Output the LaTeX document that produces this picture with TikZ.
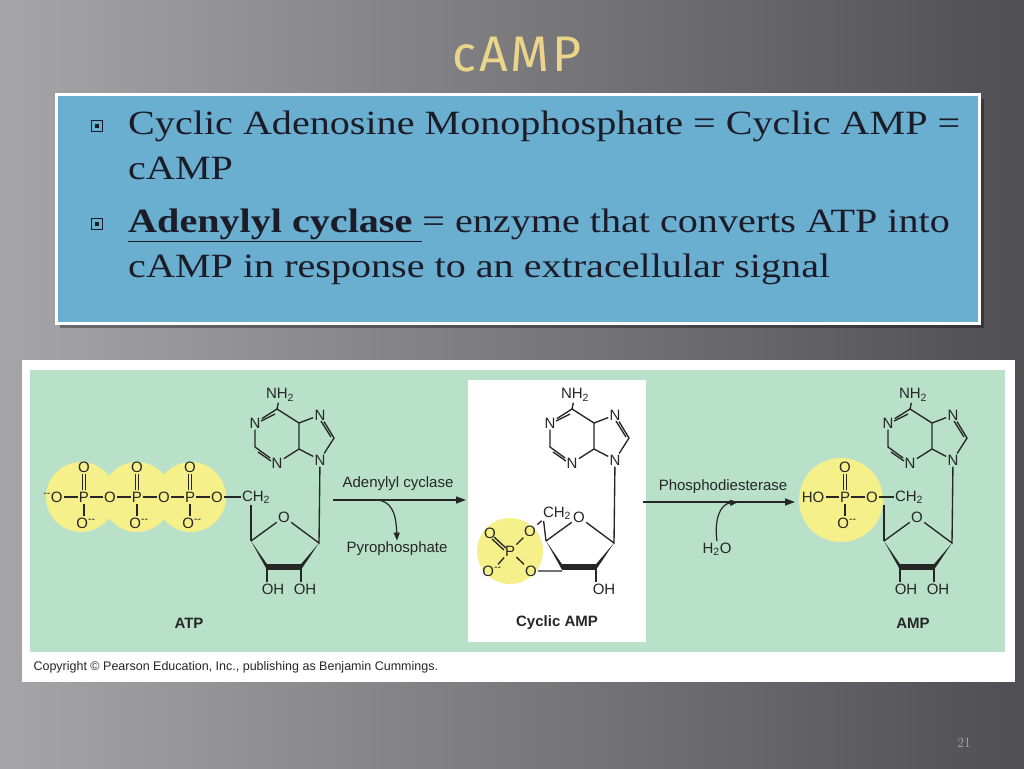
\documentclass[tikz,border=0pt]{standalone}
\usepackage{fontspec}
\newfontfamily\molf{Liberation Sans}
\newfontfamily\titlef[LetterSpace=6]{Fira Sans}
\newfontfamily\bodyf{Liberation Serif}
\usetikzlibrary{calc,arrows.meta,shadows}
\definecolor{slidebg}{HTML}{6A6A6F}
\definecolor{boxblue}{HTML}{6AAED0}
\definecolor{pgreen}{HTML}{B9E1C9}
\definecolor{ylw}{HTML}{F6F08A}
\definecolor{gold}{HTML}{EBD58A}
\definecolor{txt}{HTML}{1C1C28}
\tikzset{
 atom/.style={font=\molf\fontsize{15}{15}\selectfont, inner sep=1.2pt, text=black!85},
 bond/.style={line width=1.35pt, black!85},
 lbl/.style={font=\molf\bfseries\fontsize{15}{15}\selectfont, text=black!85},
 body/.style={anchor=base west, font=\bodyf\fontsize{34}{38}\selectfont, text=txt, inner sep=0pt, xscale=1.18, transform shape},
 ph/.style={circle, fill=ylw, minimum size=#1, inner sep=0pt},
 rarrow/.style={line width=1.3pt, black!85, -{Triangle[length=10pt,width=7pt]}},
 bul/.style={draw=txt, line width=0.8pt, minimum size=11pt, inner sep=0pt, path picture={\fill[txt] (path picture bounding box.center) ++(-2pt,-2pt) rectangle ++(4pt,4pt);}},
}
\newcommand\mynuc[1]{%
 \node[atom] (#1nh) at (3,0) {NH\textsubscript{2}};
 \coordinate (#1c6) at (0,14);
 \node[atom] (#1n1) at (-22,28) {N};
 \coordinate (#1c2) at (-22,52);
 \node[atom] (#1n3) at (0,68) {N};
 \coordinate (#1c4) at (22,54);
 \coordinate (#1c5) at (22,28);
 \node[atom] (#1n7) at (43,20) {N};
 \coordinate (#1c8) at (57,43);
 \node[atom] (#1n9) at (43,65) {N};
 \coordinate (#1c1) at (42,148);
 \node[atom] (#1o) at (7,122) {O};
 \coordinate (#1cf) at (-26,146);
 \coordinate (#1ct) at (-10,172);
 \coordinate (#1cs) at (24,172);
 \draw[bond] (#1nh) -- (#1c6) -- (#1n1) -- (#1c2) -- (#1n3) -- (#1c4) -- (#1c5) -- (#1c6);
 \draw[bond] (#1c5) -- (#1n7) -- (#1c8) -- (#1n9) -- (#1c4);
 \draw[bond] (#1n9) -- (#1c1) -- (#1o) -- (#1cf);
 \draw[bond] ($(#1c6)+(-2,5)$) -- ($(#1n1)+(6,-2)$);
 \draw[bond] ($(#1c2)+(3,5)$) -- ($(#1n3)+(-6,-2)$);
 \draw[bond] ($(#1n7)+(1,6)$) -- ($(#1c8)+(-3,-1)$);
 \fill[black!85] (#1cf) -- ($(#1ct)+(0,-2.8)$) -- ($(#1ct)+(0,2.8)$) -- cycle;
 \fill[black!85] (#1c1) -- ($(#1cs)+(0,-2.8)$) -- ($(#1cs)+(0,2.8)$) -- cycle;
 \draw[black!85, line width=5.6pt] (#1ct) -- (#1cs);
}
\begin{document}
\begin{tikzpicture}[x=1pt,y=-1pt]
\useasboundingbox (0,0) rectangle (1024,768);
\shade[shading=axis, shading angle=-55, left color=white!40!slidebg, right color=slidebg!75!black] (0,0) rectangle (1024,768);
% title
\node[font=\titlef\fontsize{50}{50}\selectfont, text=gold] (title) at (517,55) {cAMP};
% blue box
\fill[black, opacity=0.35] (60,99) rectangle (984,328);
\node[draw=white, line width=3pt, fill=boxblue, minimum width=923pt, minimum height=229pt, anchor=north west, inner sep=0pt] (box) at (55,93) {};
\node[bul] (b1) at (97,126) {};
\node[bul] (b2) at (97,224) {};
\node[body] (l1) at (128,134) {Cyclic Adenosine Monophosphate = Cyclic AMP =};
\node[body] (l2) at (128,179) {cAMP};
\node[body] (l3) at (128,232) {\textbf{\underline{Adenylyl cyclase }}= enzyme that converts ATP into};
\node[body] (l4) at (128,277) {cAMP in response to an extracellular signal};
% figure
\fill[white] (22,360) rectangle (1015,682);
\fill[pgreen] (30,370) rectangle (1005,652);
\fill[white] (468,380) rectangle (646,642);
\node[anchor=west, font=\molf\fontsize{12.5}{13}\selectfont, text=black!85] (copy) at (30,667) {Copyright \textcopyright{} Pearson Education, Inc., publishing as Benjamin Cummings.};
\node[font=\fontsize{14}{14}\selectfont, text=black!35] (pg) at (964,743) {21};
% ATP
\node[ph=70pt] (y1) at (81,497) {};
\node[ph=70pt] (y2) at (137,497) {};
\node[ph=70pt] (y3) at (191,497) {};
\begin{scope}[shift={(277,395)}]\mynuc{a}\end{scope}
\node[atom] (am) at (53,497) {\textsuperscript{--}O};
\node[atom] (ap1) at (84,497) {P};
\node[atom] (ao1) at (110,497) {O};
\node[atom] (ap2) at (137,497) {P};
\node[atom] (ao2) at (164,497) {O};
\node[atom] (ap3) at (190,497) {P};
\node[atom] (ao3) at (217,497) {O};
\node[atom] (ach) at (256,497) {CH\textsubscript{2}};
\foreach \i in {1,2,3}{
 \node[atom] (at\i) at ($(ap\i)+(0,-30)$) {O};
 \node[atom] (ab\i) at ($(ap\i)+(2,26)$) {O\textsuperscript{--}};
 \draw[bond] ($(ap\i.north)+(-1.8,0)$) -- ($(at\i.south)+(-1.8,0)$);
 \draw[bond] ($(ap\i.north)+(1.8,0)$) -- ($(at\i.south)+(1.8,0)$);
 \draw[bond] (ap\i) -- (ab\i.north-|ap\i);}
\draw[bond] (am) -- (ap1) -- (ao1) -- (ap2) -- (ao2) -- (ap3) -- (ao3) -- (ach);
\draw[bond] (ach.south-|acf) -- (acf);
\node[atom] (aoh1) at (273,589) {OH};
\node[atom] (aoh2) at (305,589) {OH};
\draw[bond] (act) -- (aoh1.north-|act);
\draw[bond] (acs) -- (aoh2.north-|acs);
\node[lbl] (atp) at (189,623) {ATP};
% arrow 1
\coordinate (r1s) at (333,500); \coordinate (r1e) at (466,500);
\draw[rarrow] (r1s) -- (r1e);
\node[atom] (e1) at (398,484) {Adenylyl cyclase};
\node[atom] (pp) at (397,549) {Pyrophosphate};
\coordinate (r1a) at (378,500);
\draw[line width=1.2pt, black!85, -{Triangle[length=8pt,width=6pt]}] (r1a) .. controls (390,502) and (396,510) .. (pp.north);
% cAMP
\node[ph=66pt] (y4) at (510,551) {};
\begin{scope}[shift={(572,395)}]\mynuc{c}\end{scope}
\node[atom] (cch) at (557,513) {CH\textsubscript{2}};
\node[atom] (co5) at (530,531) {O};
\node[atom] (cp) at (510,551) {P};
\node[atom] (cod) at (490,533) {O};
\node[atom] (com) at (492,571) {O\textsuperscript{--}};
\node[atom] (co3) at (531,571) {O};
\draw[bond] (cch.south west) -- (co5) -- (cp) -- (co3) -- (co3-|cct);
\draw[bond] (cp) -- (com);
\draw[bond] ($(cp)+(-4,-3)$) -- ($(cod)+(4,4)$);
\draw[bond] ($(cp)+(-6,-1)$) -- ($(cod)+(2,6)$);
\draw[bond] (ccf) -- ($(cch.south west)+(2,0)$);
\node[atom] (coh) at (604,589) {OH};
\draw[bond] (ccs) -- (coh.north-|ccs);
\node[lbl] (camp) at (557,623) {Cyclic AMP};
% arrow 2
\coordinate (r2s) at (643,502); \coordinate (r2e) at (795,502);
\draw[rarrow] (r2s) -- (r2e);
\node[atom] (e2) at (723,487) {Phosphodiesterase};
\node[atom] (h2o) at (717,549) {H\textsubscript{2}O};
\coordinate (r2a) at (738,502);
\draw[line width=1.2pt, black!85, -{Triangle[length=8pt,width=6pt]}] (h2o.north) .. controls (714,520) and (720,504) .. (r2a);
% AMP
\node[ph=84pt] (y5) at (841,500) {};
\begin{scope}[shift={(910,395)}]\mynuc{m}\end{scope}
\node[atom] (mho) at (813,497) {HO};
\node[atom] (mp) at (845,497) {P};
\node[atom] (mo) at (872,497) {O};
\node[atom] (mch) at (909,497) {CH\textsubscript{2}};
\node[atom] (mot) at (845,467) {O};
\node[atom] (mob) at (847,523) {O\textsuperscript{--}};
\draw[bond] (mho) -- (mp) -- (mo) -- (mch);
\draw[bond] ($(mp.north)+(-1.8,0)$) -- ($(mot.south)+(-1.8,0)$);
\draw[bond] ($(mp.north)+(1.8,0)$) -- ($(mot.south)+(1.8,0)$);
\draw[bond] (mp) -- (mob.north-|mp);
\draw[bond] (mch.south-|mcf) -- (mcf);
\node[atom] (moh1) at (906,589) {OH};
\node[atom] (moh2) at (938,589) {OH};
\draw[bond] (mct) -- (moh1.north-|mct);
\draw[bond] (mcs) -- (moh2.north-|mcs);
\node[lbl] (amp) at (913,623) {AMP};
\end{tikzpicture}
\end{document}
